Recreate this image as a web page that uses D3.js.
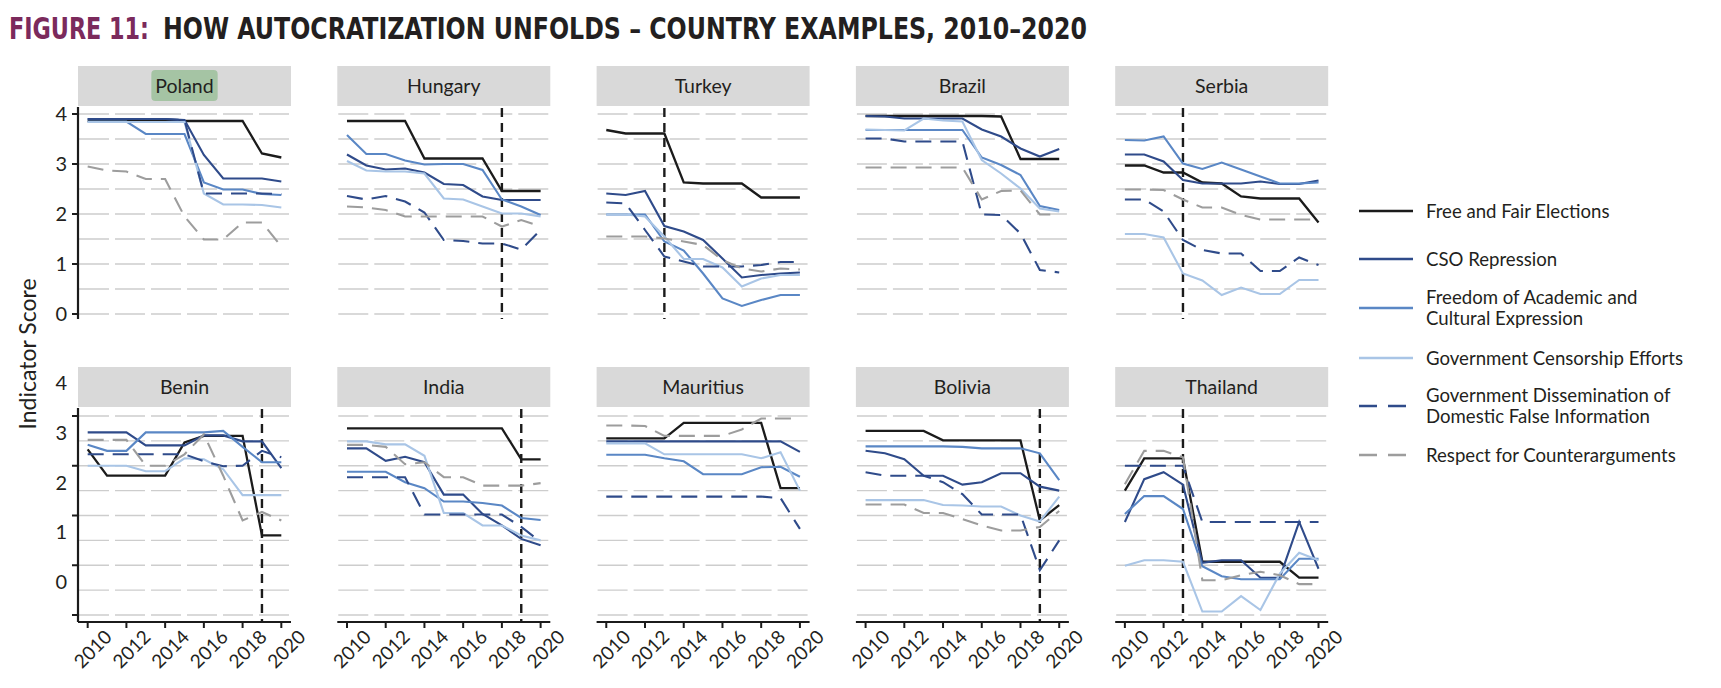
<!DOCTYPE html>
<html>
<head>
<meta charset="utf-8">
<script src="https://cdn.jsdelivr.net/npm/d3@7"></script>
<style>
  body { margin: 0; background: #fff; }
  text { font-family: Lato, "Open Sans", sans-serif; fill: #231f20; }
</style>
</head>
<body>
<svg id="chart"></svg>
<script>
// Data: one array per country, six indicator series each (2010..2020)
const years = d3.range(2010, 2021);
const indicators = [
  "Free and Fair Elections",
  "CSO Repression",
  "Freedom of Academic and Cultural Expression",
  "Government Censorship Efforts",
  "Government Dissemination of Domestic False Information",
  "Respect for Counterarguments"
];
const legendLabels = [
  ["Free and Fair Elections"],
  ["CSO Repression"],
  ["Freedom of Academic and", "Cultural Expression"],
  ["Government Censorship Efforts"],
  ["Government Dissemination of", "Domestic False Information"],
  ["Respect for Counterarguments"]
];
const countries = ["Poland", "Hungary", "Turkey", "Brazil", "Serbia",
                   "Benin", "India", "Mauritius", "Bolivia", "Thailand"];
// year of the vertical dashed marker (null = none)
const eventYears = [null, 2018, 2013, null, 2013, 2019, 2019, null, 2019, 2013];
const yTicks = [0, 1, 2, 3, 4];
const xTicks = [2010, 2012, 2014, 2016, 2018, 2020];

const poland = [
  [3.86, 3.86, 3.86, 3.86, 3.86, 3.86, 3.86, 3.86, 3.86, 3.21, 3.13],
  [3.9, 3.9, 3.9, 3.9, 3.9, 3.88, 3.18, 2.71, 2.71, 2.71, 2.65],
  [3.85, 3.85, 3.85, 3.6, 3.6, 3.6, 2.63, 2.49, 2.49, 2.4, 2.38],
  [3.84, 3.84, 3.84, 3.84, 3.84, 3.84, 2.41, 2.19, 2.19, 2.18, 2.13],
  [3.9, 3.9, 3.9, 3.9, 3.9, 3.88, 2.41, 2.41, 2.41, 2.41, 2.4],
  [2.95, 2.87, 2.85, 2.7, 2.7, 1.95, 1.49, 1.49, 1.83, 1.83, 1.35]
];
const hungary = [
  [3.86, 3.86, 3.86, 3.86, 3.11, 3.11, 3.11, 3.11, 2.46, 2.46, 2.46],
  [3.19, 2.97, 2.89, 2.91, 2.83, 2.6, 2.58, 2.35, 2.28, 2.28, 2.28],
  [3.58, 3.2, 3.2, 3.07, 2.99, 3.0, 3.0, 2.88, 2.29, 2.15, 1.98],
  [3.06, 2.87, 2.85, 2.85, 2.81, 2.31, 2.29, 2.15, 2.01, 2.01, 1.95],
  [2.36, 2.29, 2.36, 2.25, 2.03, 1.48, 1.46, 1.41, 1.41, 1.29, 1.68],
  [2.15, 2.13, 2.08, 1.95, 1.95, 1.95, 1.95, 1.95, 1.75, 1.88, 1.75]
];
const turkey = [
  [3.68, 3.61, 3.61, 3.61, 2.63, 2.61, 2.61, 2.61, 2.33, 2.33, 2.33],
  [2.41, 2.38, 2.46, 1.76, 1.65, 1.48, 1.11, 0.73, 0.78, 0.81, 0.83],
  [1.99, 1.99, 1.99, 1.45, 1.27, 0.81, 0.31, 0.16, 0.28, 0.38, 0.38],
  [1.99, 1.99, 1.95, 1.55, 1.1, 1.1, 0.93, 0.55, 0.71, 0.78, 0.78],
  [2.23, 2.21, 1.68, 1.15, 1.05, 0.95, 0.95, 0.95, 0.98, 1.04, 1.04],
  [1.55, 1.55, 1.55, 1.51, 1.45, 1.38, 1.08, 0.91, 0.85, 0.91, 0.89]
];
const brazil = [
  [3.96, 3.96, 3.96, 3.96, 3.96, 3.96, 3.96, 3.95, 3.1, 3.1, 3.1],
  [3.96, 3.95, 3.91, 3.91, 3.91, 3.91, 3.69, 3.55, 3.31, 3.15, 3.3],
  [3.68, 3.68, 3.68, 3.68, 3.68, 3.68, 3.13, 2.98, 2.78, 2.16, 2.08],
  [3.69, 3.68, 3.67, 3.91, 3.87, 3.85, 3.08, 2.81, 2.51, 2.11, 2.05],
  [3.51, 3.51, 3.45, 3.45, 3.45, 3.45, 1.99, 1.98, 1.61, 0.88, 0.83],
  [2.93, 2.93, 2.93, 2.93, 2.93, 2.93, 2.29, 2.46, 2.47, 1.99, 1.99]
];
const serbia = [
  [2.97, 2.97, 2.83, 2.83, 2.63, 2.61, 2.35, 2.31, 2.31, 2.31, 1.83],
  [3.19, 3.19, 3.05, 2.68, 2.61, 2.61, 2.61, 2.65, 2.6, 2.6, 2.67],
  [3.48, 3.47, 3.55, 3.01, 2.9, 3.03, 2.89, 2.75, 2.61, 2.61, 2.63],
  [1.6, 1.6, 1.53, 0.81, 0.67, 0.38, 0.53, 0.4, 0.4, 0.68, 0.68],
  [2.29, 2.29, 2.05, 1.48, 1.28, 1.21, 1.21, 0.86, 0.86, 1.13, 0.98],
  [2.49, 2.49, 2.48, 2.29, 2.13, 2.13, 1.98, 1.89, 1.89, 1.89, 1.89]
];
const benin = [
  [3.33, 2.8, 2.8, 2.8, 2.8, 3.47, 3.6, 3.6, 3.6, 1.6, 1.6],
  [3.67, 3.67, 3.67, 3.41, 3.41, 3.41, 3.61, 3.61, 3.49, 3.49, 2.95],
  [3.42, 3.3, 3.3, 3.67, 3.67, 3.67, 3.67, 3.7, 3.38, 3.07, 3.07],
  [3.0, 3.0, 3.0, 2.89, 2.89, 3.15, 3.13, 2.93, 2.41, 2.41, 2.41],
  [3.23, 3.23, 3.23, 3.23, 3.23, 3.23, 3.09, 2.99, 3.0, 3.3, 3.17],
  [3.52, 3.52, 3.52, 3.0, 3.0, 3.23, 3.63, 2.8, 1.9, 2.07, 1.9]
];
const india = [
  [3.75, 3.75, 3.75, 3.75, 3.75, 3.75, 3.75, 3.75, 3.75, 3.13, 3.13],
  [3.35, 3.35, 3.1, 3.18, 3.07, 2.42, 2.42, 2.03, 1.8, 1.53, 1.4],
  [2.88, 2.88, 2.88, 2.67, 2.55, 2.28, 2.28, 2.25, 2.2, 1.95, 1.91],
  [3.49, 3.49, 3.43, 3.43, 3.2, 2.05, 2.05, 1.8, 1.8, 1.6, 1.5],
  [2.77, 2.77, 2.77, 2.77, 2.02, 2.02, 2.02, 2.02, 2.02, 1.77, 1.47],
  [3.42, 3.42, 3.38, 3.03, 3.07, 2.77, 2.77, 2.6, 2.6, 2.6, 2.65]
];
const mauritius = [
  [3.55, 3.55, 3.55, 3.55, 3.86, 3.86, 3.86, 3.86, 3.86, 2.55, 2.55],
  [3.49, 3.49, 3.49, 3.49, 3.49, 3.49, 3.49, 3.49, 3.49, 3.49, 3.28],
  [3.22, 3.22, 3.22, 3.15, 3.09, 2.83, 2.83, 2.83, 2.97, 2.98, 2.78],
  [3.45, 3.45, 3.45, 3.23, 3.23, 3.23, 3.23, 3.23, 3.15, 3.27, 2.5],
  [2.38, 2.38, 2.38, 2.38, 2.38, 2.38, 2.38, 2.38, 2.38, 2.35, 1.73],
  [3.81, 3.81, 3.8, 3.6, 3.6, 3.6, 3.6, 3.73, 3.95, 3.95, 3.95]
];
const bolivia = [
  [3.7, 3.7, 3.7, 3.7, 3.51, 3.51, 3.51, 3.51, 3.51, 1.9, 2.21],
  [3.3, 3.25, 3.13, 2.8, 2.8, 2.62, 2.67, 2.85, 2.85, 2.58, 2.5],
  [3.39, 3.39, 3.39, 3.39, 3.39, 3.38, 3.35, 3.35, 3.35, 3.25, 2.71],
  [2.31, 2.31, 2.31, 2.31, 2.21, 2.2, 2.18, 2.18, 2.0, 1.88, 2.38],
  [2.87, 2.8, 2.8, 2.8, 2.67, 2.43, 2.02, 2.02, 2.02, 0.9, 1.5],
  [2.22, 2.22, 2.22, 2.05, 2.05, 1.93, 1.8, 1.7, 1.7, 1.77, 2.09]
];
const thailand = [
  [2.5, 3.15, 3.15, 3.15, 1.07, 1.07, 1.07, 1.07, 1.07, 0.75, 0.75],
  [1.87, 2.73, 2.87, 2.62, 1.05, 1.1, 1.1, 0.75, 0.75, 1.87, 0.93],
  [2.03, 2.39, 2.39, 2.13, 0.98, 0.78, 0.72, 0.72, 0.72, 1.13, 1.13],
  [0.99, 1.1, 1.1, 1.07, 0.07, 0.07, 0.38, 0.1, 0.83, 1.25, 1.1],
  [3.0, 3.0, 3.0, 3.0, 1.87, 1.87, 1.87, 1.87, 1.87, 1.87, 1.87],
  [2.63, 3.3, 3.3, 3.17, 0.7, 0.7, 0.8, 0.87, 0.8, 0.62, 0.62]
];
const countryData = [poland, hungary, turkey, brazil, serbia,
                     benin, india, mauritius, bolivia, thailand];

// line styles per indicator
const colors = ["#1b1b1b", "#2f4b8a", "#5a87c5", "#a9c5e6", "#2f4b8a", "#9d9d9d"];
const dashes = [null, null, null, null, "16,9", "16,9"];

// layout
const W = 1721, H = 688;
const colX0 = 78, colStep = 259.3, panelW = 213;
const rows = [
  { stripTop: 66, top: 107, bottom: 319, zeroY: 314, fourY: 114 },
  { stripTop: 367, top: 408, bottom: 622, zeroY: 615, fourY: 416 }
];
const stripH = 40;

const svg = d3.select("#chart").attr("width", W).attr("height", H);

// title: two pieces, each squeezed to the width it has in the original
const titleFont = "'Liberation Sans Narrow', 'DejaVu Sans Condensed', sans-serif";
svg.append("text")
  .attr("x", 9).attr("y", 39)
  .attr("textLength", 140)
  .attr("lengthAdjust", "spacingAndGlyphs")
  .style("font-family", titleFont)
  .style("font-weight", "bold")
  .style("font-size", "30px")
  .style("fill", "#7b2a5c")
  .text("FIGURE 11:");
svg.append("text")
  .attr("x", 163).attr("y", 39)
  .attr("textLength", 924)
  .attr("lengthAdjust", "spacingAndGlyphs")
  .style("font-family", titleFont)
  .style("font-weight", "bold")
  .style("font-size", "30px")
  .text("HOW AUTOCRATIZATION UNFOLDS \u2013 COUNTRY EXAMPLES, 2010\u20132020");

const x = d3.scaleLinear().domain([2009.5, 2020.5]).range([0, panelW]);

countries.forEach((name, i) => {
  const row = rows[Math.floor(i / 5)];
  const col = i % 5;
  const left = colX0 + col * colStep;
  const y = d3.scaleLinear().domain([0, 4]).range([row.zeroY, row.fourY]);
  const g = svg.append("g").attr("transform", `translate(${left},0)`);

  // strip
  g.append("rect")
    .attr("x", 0).attr("y", row.stripTop)
    .attr("width", panelW).attr("height", stripH)
    .attr("fill", "#d9d9d9");
  const lbl = g.append("text")
    .attr("x", panelW / 2).attr("y", row.stripTop + stripH / 2)
    .attr("dy", "0.36em")
    .attr("text-anchor", "middle")
    .style("font-size", "19.5px")
    .text(name);
  if (name === "Poland") {
    const bb = lbl.node().getBBox();
    g.insert("rect", "text")
      .attr("x", bb.x - 4).attr("y", row.stripTop + 4)
      .attr("width", bb.width + 8).attr("height", stripH - 9)
      .attr("rx", 4)
      .attr("fill", "#a5c4a4");
  }

  // gridlines every half unit
  g.append("g").selectAll("line")
    .data(d3.range(0, 4.01, 0.5))
    .join("line")
    .attr("x1", 1).attr("x2", panelW)
    .attr("y1", d => y(d)).attr("y2", d => y(d))
    .attr("stroke", "#cdcdcd")
    .attr("stroke-width", 1.3)
    .attr("stroke-dasharray", "30,6");

  // event marker
  if (eventYears[i]) {
    g.append("line")
      .attr("x1", x(eventYears[i])).attr("x2", x(eventYears[i]))
      .attr("y1", row.top + 1).attr("y2", row.bottom)
      .attr("stroke", "#1b1b1b")
      .attr("stroke-width", 2.4)
      .attr("stroke-dasharray", "9,6");
  }

  // series
  const line = d3.line().x((d, j) => x(years[j])).y(d => y(d));
  g.append("g").selectAll("path")
    .data(countryData[i])
    .join("path")
    .attr("d", line)
    .attr("fill", "none")
    .attr("stroke", (d, k) => colors[k])
    .attr("stroke-width", (d, k) => k === 0 ? 2.3 : 2.1)
    .attr("stroke-dasharray", (d, k) => dashes[k]);

  // y axis on first column
  if (col === 0) {
    const ya = g.append("g");
    ya.append("line")
      .attr("x1", 0).attr("x2", 0)
      .attr("y1", row.top).attr("y2", row.bottom)
      .attr("stroke", "#1b1b1b").attr("stroke-width", 2.2);
    ya.selectAll("line.tick")
      .data(yTicks)
      .join("line")
      .attr("class", "tick")
      .attr("x1", -6).attr("x2", 0)
      .attr("y1", d => y(d)).attr("y2", d => y(d))
      .attr("stroke", "#1b1b1b").attr("stroke-width", 2);
    // the bottom-row labels sit about two thirds of a unit above their ticks in the original
    const shift = i < 5 ? 0 : -33;
    ya.selectAll("text")
      .data(yTicks)
      .join("text")
      .attr("x", -11)
      .attr("y", d => y(d) + shift)
      .attr("dy", "0.36em")
      .attr("text-anchor", "end")
      .style("font-size", "20px")
      .text(d => d);
  }

  // x axis on bottom row
  if (i >= 5) {
    const xa = g.append("g");
    xa.append("line")
      .attr("x1", 0).attr("x2", panelW)
      .attr("y1", row.bottom).attr("y2", row.bottom)
      .attr("stroke", "#1b1b1b").attr("stroke-width", 2.2);
    xa.selectAll("line.tick")
      .data(xTicks)
      .join("line")
      .attr("class", "tick")
      .attr("x1", d => x(d)).attr("x2", d => x(d))
      .attr("y1", row.bottom).attr("y2", row.bottom + 6)
      .attr("stroke", "#1b1b1b").attr("stroke-width", 2);
    xa.selectAll("text")
      .data(xTicks)
      .join("text")
      .attr("transform", d => `translate(${x(d) + 5},${row.bottom + 27}) rotate(-45)`)
      .attr("dy", "0.36em")
      .attr("text-anchor", "middle")
      .style("font-size", "19px")
      .text(d => d);
  }
});

// y axis title
svg.append("text")
  .attr("transform", "translate(28,354) rotate(-90)")
  .attr("dy", "0.36em")
  .attr("text-anchor", "middle")
  .style("font-size", "23px")
  .text("Indicator Score");

// legend
const legendY = [211, 259, 308, 358, 406, 455];
const legend = svg.append("g").attr("transform", "translate(1359,0)");
indicators.forEach((ind, k) => {
  const ly = legendY[k];
  legend.append("line")
    .attr("x1", 0).attr("x2", 54)
    .attr("y1", ly).attr("y2", ly)
    .attr("stroke", colors[k])
    .attr("stroke-width", 2.3)
    .attr("stroke-dasharray", dashes[k] ? "18,11" : null);
  const lines = legendLabels[k];
  lines.forEach((t, m) => {
    legend.append("text")
      .attr("x", 67)
      .attr("y", ly + (m - (lines.length - 1) / 2) * 21)
      .attr("dy", "0.36em")
      .style("font-size", "18.6px")
      .text(t);
  });
});
</script>
</body>
</html>
